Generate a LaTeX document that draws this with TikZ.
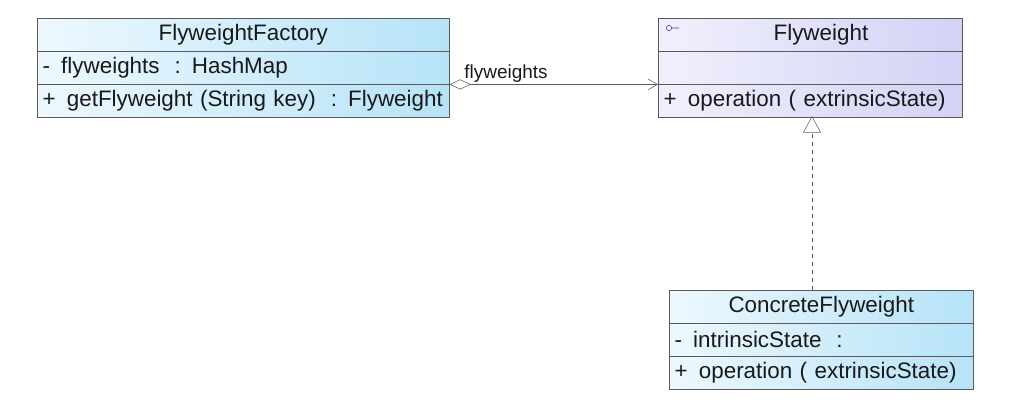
\documentclass[tikz,border=0pt]{standalone}
\usepackage{fontspec}
\setmainfont{Liberation Sans}
\usetikzlibrary{positioning, arrows.meta}

\definecolor{boxgray}{HTML}{5A5A5A}
\definecolor{factoryL}{HTML}{EDF8FE}
\definecolor{factoryR}{HTML}{B6E3F8}
\definecolor{ifaceL}{HTML}{F0F0FC}
\definecolor{ifaceR}{HTML}{D3D2F6}
\definecolor{iconblue}{HTML}{3A3AA8}

\begin{document}
\begin{tikzpicture}[x=0.75pt, y=-0.75pt, node distance=0pt,
  font=\fontsize{16.8}{19}\selectfont, text=black!90,
  part/.style = {draw=boxgray, inner ysep=0pt, inner xsep=4pt, minimum height=24.5pt},
  title/.style = {part, align=center},
  member/.style = {part, align=left},
  blue/.style = {left color=factoryL, right color=factoryR},
  lilac/.style = {left color=ifaceL, right color=ifaceR},
  link/.style = {draw=boxgray, thin}]

  \useasboundingbox (0,0) rectangle (1021,411);

  % FlyweightFactory
  \node[title, blue, minimum width=309pt, anchor=north west] (fft) at (37,18) {FlyweightFactory};
  \node[member, blue, text width=301pt, below=of fft] (ffa) {-\enspace flyweights\ \ : HashMap};
  \node[member, blue, text width=301pt, below=of ffa] (ffo) {+\enspace getFlyweight (String key)\ \ : Flyweight};

  % Flyweight
  \node[title, lilac, minimum width=228pt, anchor=north west] (fwt) at (658,18) {\hspace{16pt}Flyweight};
  \node[member, lilac, text width=220pt, below=of fwt] (fwa) {};
  \node[member, lilac, text width=220pt, below=of fwa] (fwo) {+\enspace operation ( extrinsicState)};
  \draw[iconblue, thin] (669,28) circle (2.6) (671.6,28) -- (679,28);

  % ConcreteFlyweight
  \node[title, blue, minimum width=228pt, anchor=north west] (cft) at (669,290) {ConcreteFlyweight};
  \node[member, blue, text width=220pt, below=of cft] (cfa) {-\enspace intrinsicState\ \ :};
  \node[member, blue, text width=220pt, below=of cfa] (cfo) {+\enspace operation ( extrinsicState)};

  \coordinate (gen) at (812,116);
  \coordinate (cftop) at (812,290);

  \draw[link, {Diamond[open, length=16pt, width=7.5pt]}-{Straight Barb[length=7pt, width=8pt]}]
    (ffa.south east) -- node[pos=0, anchor=south west, xshift=10pt, inner sep=1pt,
    font=\fontsize{14.2}{16}\selectfont] {flyweights} (fwa.south west);
  \draw[link, dashed, -{Triangle[open, length=12.5pt, width=13.5pt]}] (cftop) -- (gen);

\end{tikzpicture}
\end{document}
